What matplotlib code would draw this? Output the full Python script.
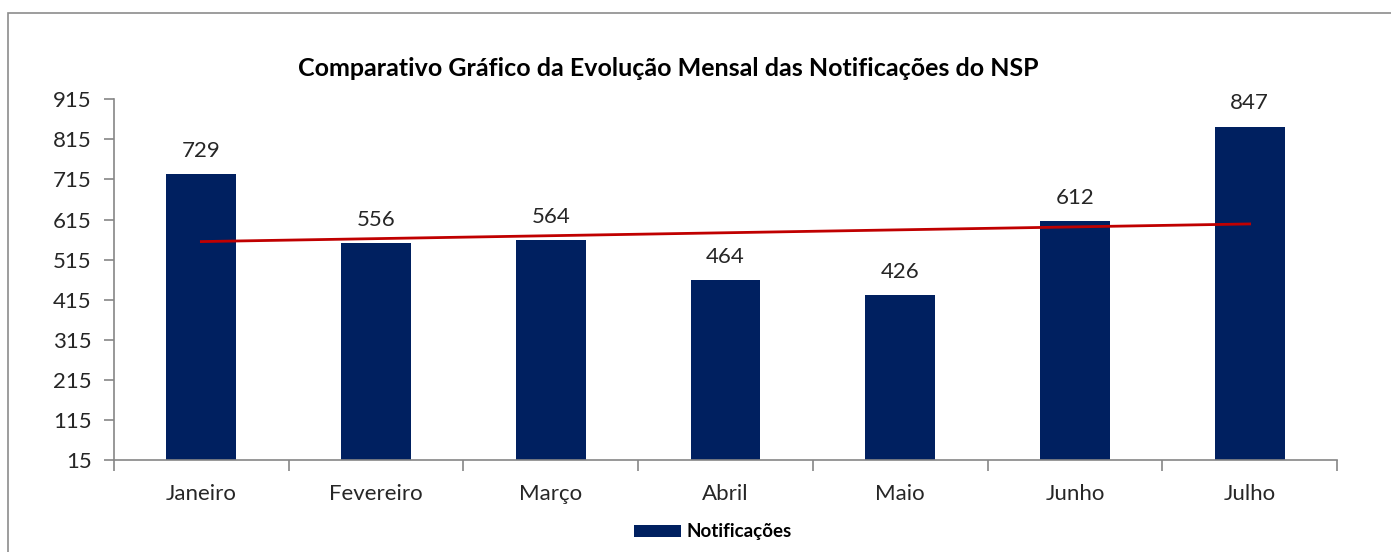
import numpy as np
import matplotlib
matplotlib.use("Agg")
import matplotlib.pyplot as plt
from matplotlib.patches import Rectangle

# dados
meses = ["Janeiro", "Fevereiro", "Março", "Abril", "Maio", "Junho", "Julho"]
notificacoes = [729, 556, 564, 464, 426, 612, 847]
tendencia_ini_fim = [560, 604]   # linha de tendência (Janeiro -> Julho)
yticks = [15, 115, 215, 315, 415, 515, 615, 715, 815, 915]

plt.rcParams['font.family'] = ['Lato', 'DejaVu Sans']

fig = plt.figure(figsize=(13.91, 5.52), dpi=100)
ax = fig.add_axes([114 / 1391, 1 - 460 / 552, (1337 - 114) / 1391, (460 - 99.3) / 552])

# moldura externa
fig.patches.append(Rectangle((8 / 1391, -0.1), 1.2, 1 - 13 / 552 + 0.1,
                             transform=fig.transFigure, fill=False,
                             edgecolor="#8c8c8c", linewidth=1.2))

x = np.arange(len(meses))
ax.bar(x, notificacoes, width=0.4, color="#002060", label="Notificações", zorder=2)

ax.plot([x[0], x[-1]], tendencia_ini_fim, color="#c00000", linewidth=2, zorder=3)

for xi, v in zip(x, notificacoes):
    ax.text(xi, v + 33, str(v), ha="center", va="bottom", fontsize=16, color="#262626")

ax.set_xlim(-0.5, len(meses) - 0.5)
ax.set_ylim(15, 915)
ax.set_yticks(yticks)
ax.set_yticklabels([str(t) for t in yticks], fontsize=16, color="#262626")

ax.set_xticks(x)
ax.set_xticklabels(meses, fontsize=16, color="#262626")
ax.tick_params(axis="x", length=0, pad=17)
ax.set_xticks(np.arange(-0.5, len(meses)), minor=True)
ax.tick_params(axis="x", which="minor", length=8, color="#868686", width=1.2)
ax.tick_params(axis="y", length=7, color="#868686", width=1.2, pad=9)

for s in ["top", "right"]:
    ax.spines[s].set_visible(False)
for s in ["left", "bottom"]:
    ax.spines[s].set_color("#868686")
    ax.spines[s].set_linewidth(1.2)

fig.text(668 / 1391, 1 - 68 / 552, "Comparativo Gráfico da Evolução Mensal das Notificações do NSP",
         ha="center", va="center", fontsize=18, fontweight="bold", color="black")

leg = fig.legend(handles=[ax.patches[0]], labels=["Notificações"], loc="center",
                 bbox_to_anchor=(713 / 1391, 1 - 532 / 552), frameon=False,
                 prop={"weight": "bold", "size": 13.5}, handlelength=2.5, handleheight=0.6,
                 handletextpad=0.3)

fig.savefig("out.png", dpi=100)
